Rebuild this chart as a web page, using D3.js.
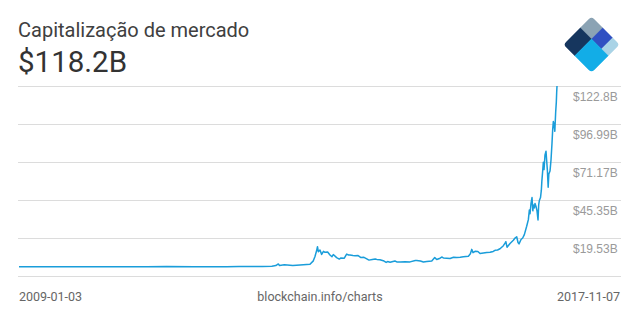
<!DOCTYPE html>
<html>
<head>
<meta charset="utf-8">
<script src="https://cdn.jsdelivr.net/npm/d3@7"></script>
<style>
    body { margin: 0; background: #fff; }
    svg { display: block; font-family: Roboto, "Noto Sans", sans-serif; }
    .grid line { stroke: #dcdcdc; stroke-width: 1; shape-rendering: crispEdges; }
    .grid text { fill: #9a9a9a; font-size: 12px; }
</style>
</head>
<body>
<svg id="chart"></svg>
<script>
// market cap in billions of USD
const dates = [
    "2009-01-03", "2010-01-03", "2010-07-17", "2011-02-10", "2011-06-08", "2011-11-18",
    "2012-06-01", "2012-08-16", "2013-01-03", "2013-03-01", "2013-03-25", "2013-04-09",
    "2013-04-16", "2013-05-15", "2013-07-05", "2013-08-17", "2013-10-16", "2013-11-05",
    "2013-11-15", "2013-11-25", "2013-11-30", "2013-12-05", "2013-12-15", "2013-12-25",
    "2014-01-05", "2014-01-14", "2014-01-30", "2014-02-13", "2014-02-25", "2014-03-05",
    "2014-03-25", "2014-04-10", "2014-04-20", "2014-05-10", "2014-05-24", "2014-06-05",
    "2014-06-13", "2014-07-01", "2014-07-13", "2014-08-01", "2014-08-18", "2014-09-05",
    "2014-09-22", "2014-10-05", "2014-10-25", "2014-11-12", "2014-11-21", "2014-12-10",
    "2014-12-30", "2015-01-16", "2015-01-25", "2015-02-09", "2015-03-10", "2015-03-21",
    "2015-04-10", "2015-05-10", "2015-06-09", "2015-07-10", "2015-07-19", "2015-08-10",
    "2015-08-28", "2015-09-17", "2015-10-17", "2015-11-04", "2015-11-16", "2015-12-06",
    "2015-12-16", "2015-12-26", "2016-01-15", "2016-02-04", "2016-02-25", "2016-03-15",
    "2016-04-05", "2016-04-24", "2016-05-24", "2016-06-05", "2016-06-13", "2016-06-21",
    "2016-07-03", "2016-07-20", "2016-08-02", "2016-08-22", "2016-09-11", "2016-10-01",
    "2016-10-20", "2016-10-31", "2016-11-15", "2016-11-30", "2016-12-20", "2016-12-30",
    "2017-01-04", "2017-01-11", "2017-01-29", "2017-02-18", "2017-02-28", "2017-03-10",
    "2017-03-18", "2017-03-24", "2017-04-05", "2017-04-15", "2017-04-25", "2017-05-09",
    "2017-05-19", "2017-05-25", "2017-05-29", "2017-06-04", "2017-06-10", "2017-06-15",
    "2017-06-18", "2017-06-24", "2017-06-28", "2017-07-04", "2017-07-10", "2017-07-16",
    "2017-07-20", "2017-07-24", "2017-07-31", "2017-08-05", "2017-08-08", "2017-08-13",
    "2017-08-17", "2017-08-21", "2017-08-27", "2017-09-02", "2017-09-06", "2017-09-10",
    "2017-09-15", "2017-09-19", "2017-09-26", "2017-10-02", "2017-10-08", "2017-10-12",
    "2017-10-16", "2017-10-20", "2017-10-25", "2017-10-30", "2017-11-03", "2017-11-05",
    "2017-11-07"
]

const capValues = [
    0, 0, 0.0003, 0.008, 0.2, 0.02,
    0.05, 0.12, 0.14, 0.35, 0.8, 1.9,
    0.9, 1.3, 0.8, 1.2, 1.7, 4.0,
    7.0, 11.0, 13.6, 10.2, 11.4, 8.4,
    10.5, 9.8, 10.0, 8.0, 6.8, 8.3,
    6.2, 5.2, 6.0, 5.8, 8.6, 8.0,
    8.0, 7.6, 7.5, 7.6, 6.2, 6.4,
    5.3, 4.5, 4.9, 5.3, 5.0, 4.8,
    4.1, 2.9, 3.5, 3.0, 3.9, 3.3,
    3.2, 3.4, 3.3, 4.2, 4.3, 3.9,
    3.2, 3.5, 3.9, 6.2, 4.9, 5.8,
    6.6, 6.0, 5.8, 5.6, 6.4, 6.2,
    6.4, 6.8, 7.2, 8.8, 11.8, 9.6,
    10.5, 10.4, 9.0, 9.3, 9.6, 9.8,
    10.4, 11.2, 11.4, 12.2, 14.3, 16.0,
    17.0, 13.3, 15.8, 18.0, 19.5, 20.4,
    16.5, 15.5, 18.5, 19.5, 21.8, 27.5,
    32, 38.5, 36, 43, 47, 38,
    42, 40, 43, 41, 38, 31.8,
    42, 45, 47, 52, 58, 65,
    71, 66, 76, 78.5, 72, 66,
    54, 63, 65, 72.5, 84, 93,
    98.6, 97, 92, 105, 112, 118.2,
    122.8
]

// first value is the unlabeled bottom rule
const yTickValues = [-6.29, 19.53, 45.35, 71.17, 96.99, 122.8]

const titleText = "Capitalização de mercado"
const currentValue = "$118.2B"
const sourceText = "blockchain.info/charts"

class CapChart {

    constructor(_config, _dates, _values) {
        this.config = {
            parentElement: _config.parentElement,
            containerWidth: _config.containerWidth || 640,
            containerHeight: _config.containerHeight || 320,
            plotLeft: 19,
            plotRight: 557,
            gridLeft: 18,
            gridRight: 621,
            top: 86,
            bottom: 276
        }

        let parse = d3.utcParse("%Y-%m-%d")
        this.data = _dates.map((d, i) => ({ date: parse(d), value: _values[i] }))

        this.initVis()
    }

    initVis() {
        let vis = this
        let c = vis.config

        vis.svg = d3.select(c.parentElement)
            .attr('width', c.containerWidth)
            .attr('height', c.containerHeight)

        vis.xScale = d3.scaleUtc()
            .domain(d3.extent(vis.data, d => d.date))
            .range([c.plotLeft, c.plotRight])

        vis.yScale = d3.scaleLinear()
            .domain([yTickValues[0], yTickValues[yTickValues.length - 1]])
            .range([c.bottom, c.top])

        let fmt = d3.format(".4")
        vis.yAxis = d3.axisRight(vis.yScale)
            .tickValues(yTickValues)
            .tickSize(c.gridRight - c.gridLeft)
            .tickPadding(-48)
            .tickFormat(d => d < 0 ? "" : "$" + fmt(d) + "B")

        vis.gridGroup = vis.svg.append('g')
            .attr('class', 'grid')
            .attr('transform', `translate(${c.gridLeft}, 0)`)

        vis.lineGroup = vis.svg.append('g')

        vis.renderVis()
    }

    renderVis() {
        let vis = this
        let c = vis.config

        vis.gridGroup.call(vis.yAxis)
        vis.gridGroup.select('.domain').remove()
        vis.gridGroup.selectAll('text')
            .attr('text-anchor', 'start')
            .attr('dy', '1.2em')

        let line = d3.line()
            .x(d => vis.xScale(d.date))
            .y(d => vis.yScale(d.value))

        vis.lineGroup.append('path')
            .datum(vis.data)
            .attr('fill', 'none')
            .attr('stroke', '#1a9dda')
            .attr('stroke-width', 1.5)
            .attr('stroke-linejoin', 'round')
            .attr('d', line)

        // header
        vis.svg.append('text')
            .attr('x', 18).attr('y', 37)
            .attr('font-size', 20)
            .attr('fill', '#404040')
            .text(titleText)

        vis.svg.append('text')
            .attr('x', 18).attr('y', 72)
            .attr('font-size', 29.5)
            .attr('fill', '#333')
            .text(currentValue)

        // footer
        let dateFmt = d3.utcFormat("%Y-%m-%d")
        let domain = vis.xScale.domain()
        let footer = vis.svg.append('g')
            .attr('font-size', 12.5)
            .attr('fill', '#666')

        footer.append('text')
            .attr('x', 19).attr('y', 301)
            .text(dateFmt(domain[0]))

        footer.append('text')
            .attr('x', 320).attr('y', 301)
            .attr('text-anchor', 'middle')
            .text(sourceText)

        footer.append('text')
            .attr('x', 620).attr('y', 301)
            .attr('text-anchor', 'end')
            .text(dateFmt(domain[1]))

        vis.drawLogo()
    }

    drawLogo() {
        let vis = this
        const s = 40

        let logo = vis.svg.append('g')
            .attr('transform', `translate(591.5, 44.5) rotate(45) translate(${-s / 2}, ${-s / 2})`)

        logo.append('clipPath')
            .attr('id', 'logo-clip')
            .append('rect')
            .attr('width', s).attr('height', s)
            .attr('rx', 4).attr('ry', 4)

        // [u0, v0, u1, v1, colour] as fractions of the square
        const parts = [
            [0, 0, 0.4, 0.4, "#8ba3b4"],
            [0, 0.4, 0.4, 1, "#16365e"],
            [0.4, 0, 0.75, 0.4, "#3050c2"],
            [0.75, 0, 1, 0.4, "#a9d3e6"],
            [0.4, 0.4, 1, 1, "#12ade7"]
        ]

        logo.append('g')
            .attr('clip-path', 'url(#logo-clip)')
            .selectAll('rect')
            .data(parts)
            .join('rect')
                .attr('x', d => d[0] * s)
                .attr('y', d => d[1] * s)
                .attr('width', d => (d[2] - d[0]) * s + 0.3)
                .attr('height', d => (d[3] - d[1]) * s + 0.3)
                .attr('fill', d => d[4])
    }
}

new CapChart({ parentElement: '#chart' }, dates, capValues)
</script>
</body>
</html>
